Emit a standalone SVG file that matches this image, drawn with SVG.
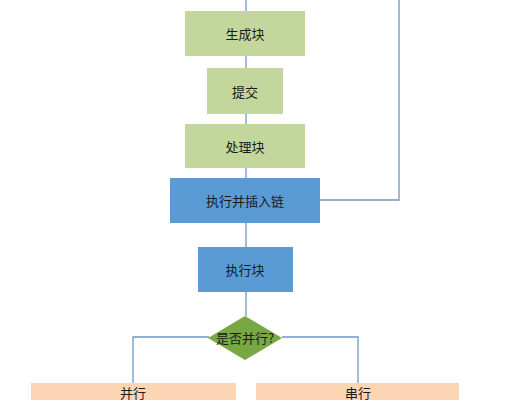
<svg xmlns="http://www.w3.org/2000/svg" width="520" height="400" viewBox="0 0 520 400">
<style>
.g{fill:#c3d69b}
.b{fill:#5b9bd5}
.d{fill:#77a843}
.p{fill:#fcd5b5}
.c{fill:none;stroke:#6f97c4;stroke-width:1.3}
text{font-family:"Noto Sans CJK SC","Liberation Sans",sans-serif;font-size:13px;fill:#1a1a1a;text-anchor:middle;dominant-baseline:central}
</style>
<rect width="520" height="400" fill="#ffffff"/>
<g id="connectors">
<path class="c" d="M246 0V11M246 56V68M246 114V124M246 168V178M246 223V247M246 292V316"/>
<path class="c" d="M320 200H399V0"/>
<path class="c" d="M209 337H133V383M282 337H358V383"/>
</g>
<g id="n1"><rect class="g" x="185" y="11" width="120" height="45"/><text x="245" y="33">生成块</text></g>
<g id="n2"><rect class="g" x="207" y="68" width="76" height="46"/><text x="245" y="91">提交</text></g>
<g id="n3"><rect class="g" x="185" y="124" width="120" height="44"/><text x="245" y="146">处理块</text></g>
<g id="n4"><rect class="b" x="170" y="178" width="150" height="45"/><text x="245" y="200">执行并插入链</text></g>
<g id="n5"><rect class="b" x="198" y="247" width="95" height="45"/><text x="245" y="269">执行块</text></g>
<g id="n6"><polygon class="d" points="245,316 282,338 245,360 208,338"/><text x="245" y="337">是否并行?</text></g>
<g id="n7"><rect class="p" x="31" y="383" width="205" height="20"/><text x="133" y="392">并行</text></g>
<g id="n8"><rect class="p" x="256" y="383" width="203" height="20"/><text x="358" y="392">串行</text></g>
</svg>
